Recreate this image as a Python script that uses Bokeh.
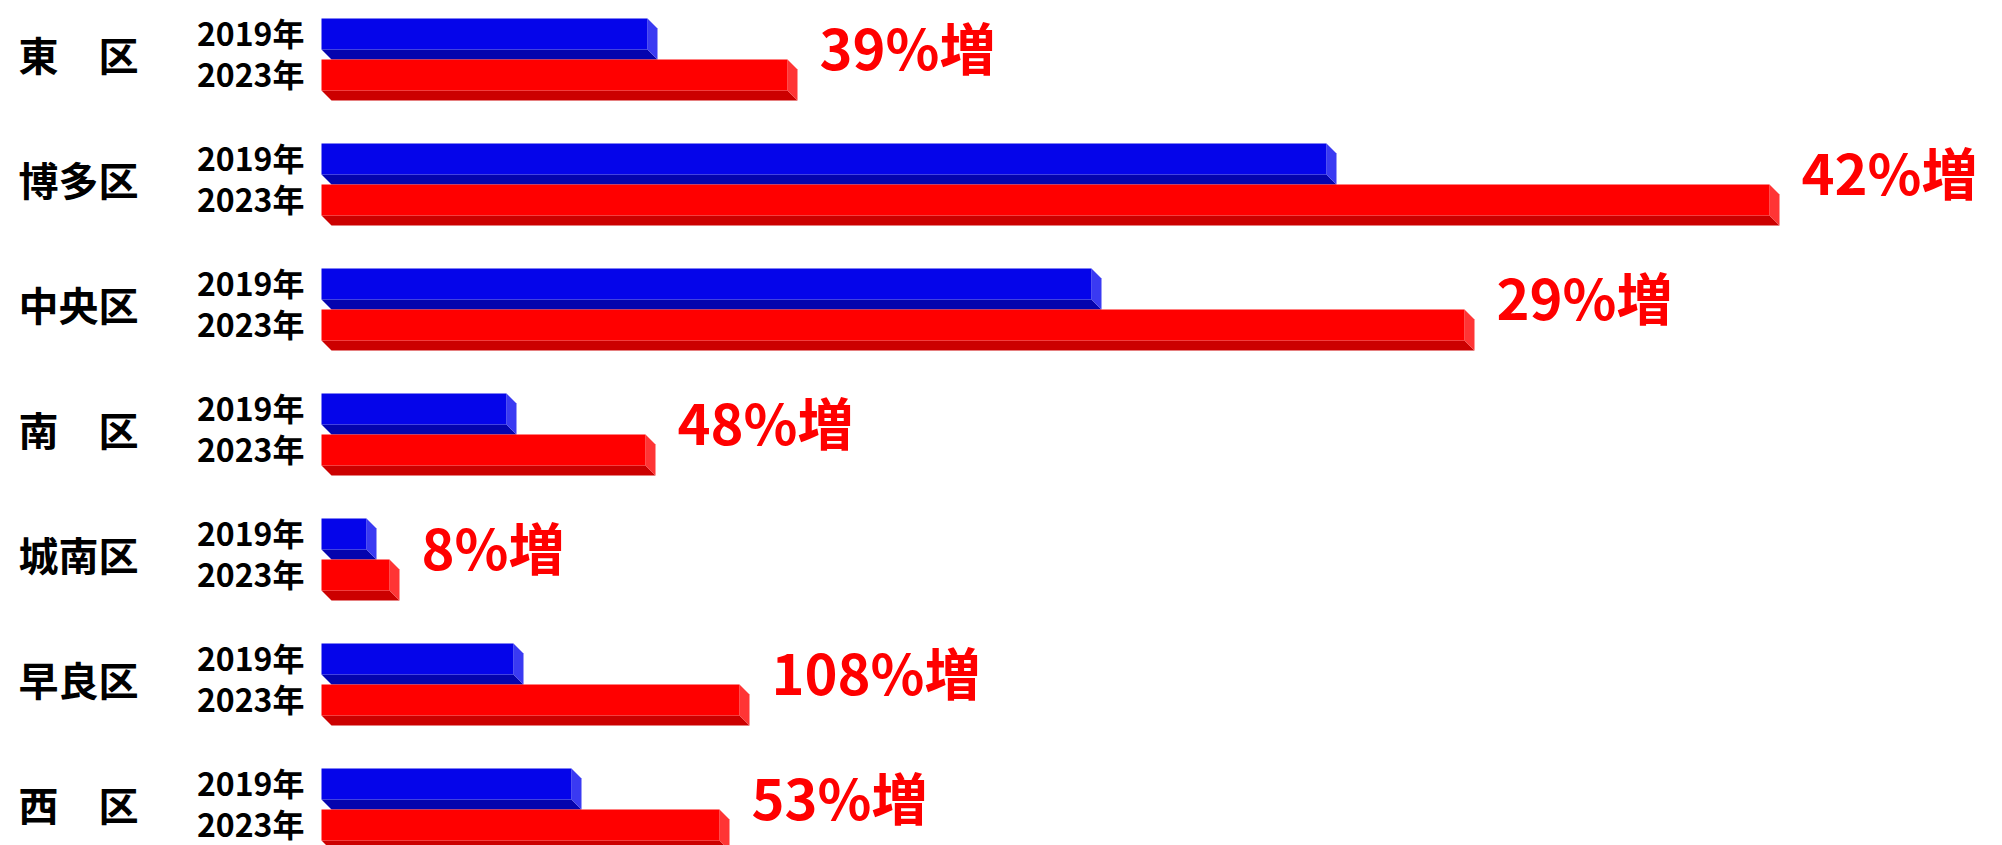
from bokeh.plotting import figure
from bokeh.models import Range1d
from bokeh.core.properties import value
from bokeh.embed import file_html
from bokeh.resources import INLINE

# ---- data ----
districts = ["東　区", "博多区", "中央区", "南　区", "城南区", "早良区", "西　区"]
years = ["2019年", "2023年"]
v2019 = [326, 1005, 770, 185, 45, 192, 250]
v2023 = [466, 1448, 1143, 324, 68, 418, 398]
growth = ["39%増", "42%増", "29%増", "48%増", "8%増", "108%増", "53%増"]

# ---- layout (pixels) ----
W, H = 2002, 845
ZERO_PX = 321          # pixel position of value 0
TOP0 = 18              # pixel top of first group
PITCH = 125            # pixels per group
FACE = 31 / PITCH      # front face thickness (group units)
STEP = 41 / PITCH      # offset between 2019 and 2023 bar
DX = 10                # depth, x units (1 unit = 1 px)
DY = 10 / PITCH        # depth, y units

FONT = value("Noto Sans CJK JP")

p = figure(width=W, height=H, output_backend="svg", toolbar_location=None,
           x_range=Range1d(-ZERO_PX, W - ZERO_PX),
           y_range=Range1d((H - TOP0) / PITCH, -TOP0 / PITCH),
           x_axis_location=None, y_axis_location=None, min_border=0)
p.grid.visible = False
p.outline_line_color = None
p.background_fill_color = "white"
p.border_fill_color = "white"

styles = [
    ("#0505EA", "#0404AE", "#3A3AF2"),   # 2019: front, bottom, side
    ("#FF0000", "#CC0000", "#FF3535"),   # 2023
]

for k, vals in enumerate([v2019, v2023]):
    front_c, bottom_c, side_c = styles[k]
    tops = [i + k * STEP for i in range(len(vals))]
    bots = [t + FACE for t in tops]
    # bottom faces
    bxs = [[0, DX, v + DX, v] for v in vals]
    bys = [[b, b + DY, b + DY, b] for b in bots]
    p.patches(bxs, bys, fill_color=bottom_c, line_color=None)
    # side faces
    sxs = [[v, v + DX, v + DX, v] for v in vals]
    sys_ = [[t, t + DY, b + DY, b] for t, b in zip(tops, bots)]
    p.patches(sxs, sys_, fill_color=side_c, line_color=None)
    # front faces
    p.quad(left=[0] * len(vals), right=vals, top=tops, bottom=bots,
           fill_color=front_c, line_color=None)
    # year labels
    p.text(x=[-17] * len(vals), y=[t + FACE / 2 - 2 / PITCH for t in tops],
           text=[years[k]] * len(vals), text_align="right", text_baseline="middle",
           text_font=FONT, text_font_style="bold", text_font_size="32px",
           text_color="black")

n = len(districts)
p.text(x=[-303] * n, y=[i + 35 / PITCH for i in range(n)], text=districts,
       text_align="left", text_baseline="middle", text_font=FONT,
       text_font_style="bold", text_font_size="40px", text_color="black")

p.text(x=[v + DX + 22 for v in v2023], y=[i + 27 / PITCH for i in range(n)],
       text=growth, text_align="left", text_baseline="middle", text_font=FONT,
       text_font_style="bold", text_font_size="56px", text_color="#FF0000")

open("out.html", "w").write(file_html(p, INLINE))
